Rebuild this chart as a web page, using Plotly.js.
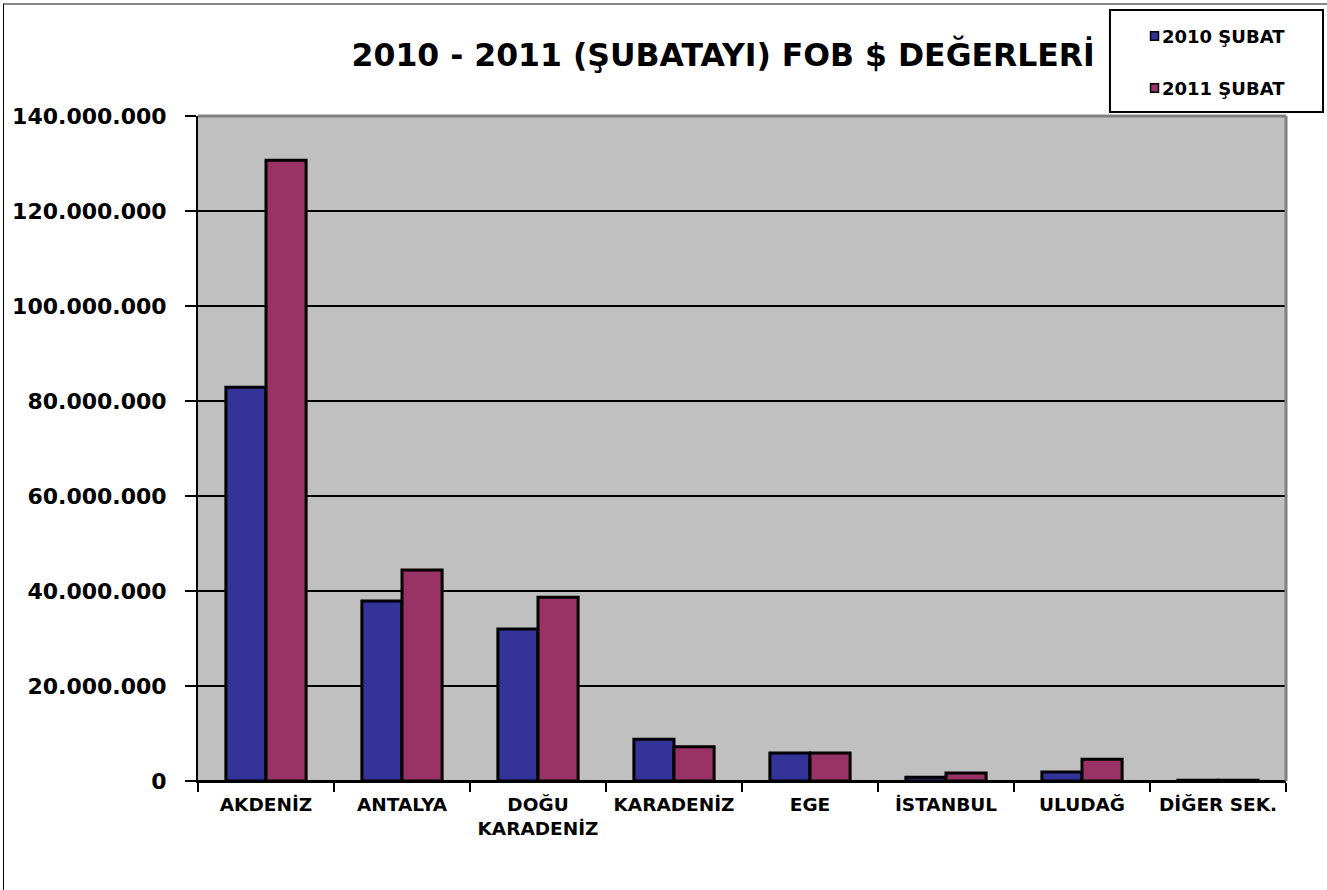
<!DOCTYPE html>
<html><head><meta charset="utf-8">
<script src="https://cdn.plot.ly/plotly-3.0.1.min.js"></script>
<style>
body{margin:0;padding:0;background:#fff;}
#frame{position:absolute;left:3px;top:3px;width:1340px;height:900px;border-left:1.5px solid #000;border-top:2px solid #888;pointer-events:none;z-index:10;}
#chart{width:1327px;height:890px;}
</style></head>
<body>
<div id="chart"></div>
<div id="frame"></div>
<script>
const categories = ["AKDENİZ","ANTALYA","DOĞU<br>KARADENİZ","KARADENİZ","EGE","İSTANBUL","ULUDAĞ","DİĞER SEK."];
const seriesNames = ["2010 ŞUBAT", "2011 ŞUBAT"];
const values2010 = [82900000, 37900000, 32000000, 8800000, 5900000, 800000, 1900000, 150000];
const values2011 = [130700000, 44400000, 38700000, 7200000, 5900000, 1700000, 4600000, 150000];
const yTicks = [0,20000000,40000000,60000000,80000000,100000000,120000000,140000000];
const colors = ["#333399", "#993366"];

const font = "DejaVu Sans, Liberation Sans, Arial, sans-serif";
const traces = [
  {type:"bar", name:seriesNames[0], x:categories, y:values2010,
   marker:{color:colors[0], line:{color:"#000", width:3}}},
  {type:"bar", name:seriesNames[1], x:categories, y:values2011,
   marker:{color:colors[1], line:{color:"#000", width:3}}}
];

// custom legend box (paper coords)
const legendItemsY = [1.1203, 1.0421];
const shapes = [
  {type:"line", xref:"paper", yref:"paper", x0:0, x1:1, y0:1, y1:1, line:{color:"#808080", width:3}},
  {type:"line", xref:"paper", yref:"paper", x0:1, x1:1, y0:0, y1:1, line:{color:"#808080", width:3}},
  {type:"rect", xref:"paper", yref:"paper", x0:0.8382, x1:1.034, y0:1.006, y1:1.1594,
   fillcolor:"#fff", line:{color:"#000", width:2}}
];
const annotations = [];
seriesNames.forEach((n,i)=>{
  shapes.push({type:"rect", xref:"paper", yref:"paper", x0:0.8755, x1:0.8828,
    y0:legendItemsY[i]-0.0065, y1:legendItemsY[i]+0.0065, fillcolor:colors[i], line:{color:"#000", width:1.5}});
  annotations.push({xref:"paper", yref:"paper", x:0.8845, y:legendItemsY[i], xanchor:"left", yanchor:"middle",
    showarrow:false, text:n, font:{family:font, size:18, color:"#000", weight:"bold"}});
});

const layout = {
  width:1327, height:890,
  margin:{l:198, r:41, t:116, b:109},
  paper_bgcolor:"#fff", plot_bgcolor:"#c0c0c0",
  separators:",.",
  bargap:0.41, bargroupgap:0,
  title:{text:"2010 - 2011 (ŞUBATAYI) FOB $ DEĞERLERİ", x:0.545, xanchor:"center", y:0.938, yanchor:"middle",
         font:{family:font, size:31.5, color:"#000", weight:"bold"}},
  font:{family:font, color:"#000"},
  xaxis:{type:"category", showgrid:false, showline:true, linecolor:"#000", linewidth:2,
         ticks:"outside", tickson:"boundaries", ticklen:9, tickwidth:1.5, tickcolor:"#000",
         ticklabelstandoff:6,
         tickfont:{family:font, size:18.5, color:"#000", weight:"bold"}, fixedrange:true},
  yaxis:{range:[0,140000000], tickvals:yTicks, tickformat:",d", showgrid:true, gridcolor:"#000", gridwidth:1.5,
         zeroline:true, zerolinecolor:"#000", zerolinewidth:2,
         showline:true, linecolor:"#000", linewidth:2, ticks:"outside", ticklen:11, tickwidth:1.5, tickcolor:"#000",
         ticklabelstandoff:14,
         tickfont:{family:font, size:22, color:"#000", weight:"bold"}},
  showlegend:false,
  shapes:shapes,
  annotations:annotations
};
Plotly.newPlot("chart", traces, layout, {displayModeBar:false, staticPlot:true});
</script>
</body></html>
